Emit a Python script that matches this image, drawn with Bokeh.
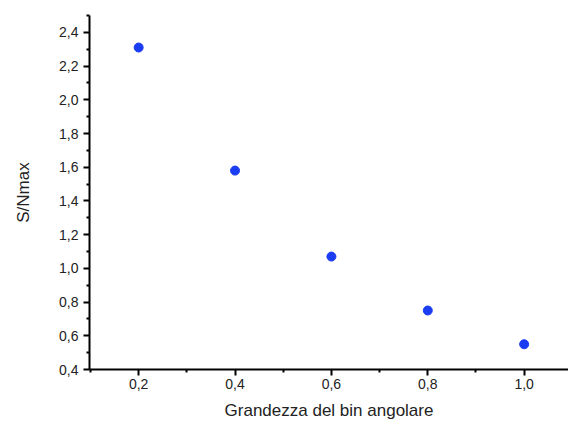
from bokeh.plotting import figure
from bokeh.models import FixedTicker, CustomJSTickFormatter, Range1d
from bokeh.embed import file_html
from bokeh.resources import INLINE

bin_size = [0.2, 0.4, 0.6, 0.8, 1.0]
sn_max = [2.31, 1.58, 1.07, 0.75, 0.55]
x_ticks = [0.2, 0.4, 0.6, 0.8, 1.0]
x_minor = [0.1, 0.3, 0.5, 0.7, 0.9, 1.1]
y_ticks = [0.4, 0.6, 0.8, 1.0, 1.2, 1.4, 1.6, 1.8, 2.0, 2.2, 2.4]
y_minor = [0.5, 0.7, 0.9, 1.1, 1.3, 1.5, 1.7, 1.9, 2.1, 2.3, 2.5]

p = figure(width=568, height=424, output_backend="svg", toolbar_location=None,
           x_range=Range1d(0.098, 1.092), y_range=Range1d(0.4, 2.5))
p.min_border_left = 89
p.min_border_right = 0
p.min_border_top = 15
p.min_border_bottom = 55
p.outline_line_color = None
p.grid.visible = False
p.background_fill_color = "white"
p.border_fill_color = "white"

p.scatter(bin_size, sn_max, size=9, color="#1a3cf2", line_color="#1a3cf2")

fmt = CustomJSTickFormatter(code="return tick.toFixed(1).replace('.', ',');")
for ax, ticks, minor, label in [(p.xaxis[0], x_ticks, x_minor, "Grandezza del bin angolare"),
                                (p.yaxis[0], y_ticks, y_minor, "S/Nmax")]:
    ax.ticker = FixedTicker(ticks=ticks, minor_ticks=minor)
    ax.formatter = fmt
    ax.axis_label = label
    ax.axis_line_width = 2
    ax.axis_line_color = "black"
    ax.major_tick_line_width = 2
    ax.major_tick_out = 6
    ax.major_tick_in = 0
    ax.minor_tick_line_width = 2
    ax.minor_tick_out = 3
    ax.minor_tick_in = 0
    ax.major_label_text_font = "Liberation Sans"
    ax.major_label_text_font_size = "14px"
    ax.major_label_text_color = "#222222"
    ax.axis_label_text_font = "Liberation Sans"
    ax.axis_label_text_font_size = "17px"
    ax.axis_label_text_font_style = "normal"
    ax.axis_label_text_color = "#222222"

p.yaxis[0].major_label_standoff = 5
p.yaxis[0].axis_label_standoff = 23
p.xaxis[0].major_label_standoff = 3
p.xaxis[0].axis_label_standoff = 9

open("out.html", "w").write(file_html(p, INLINE))
